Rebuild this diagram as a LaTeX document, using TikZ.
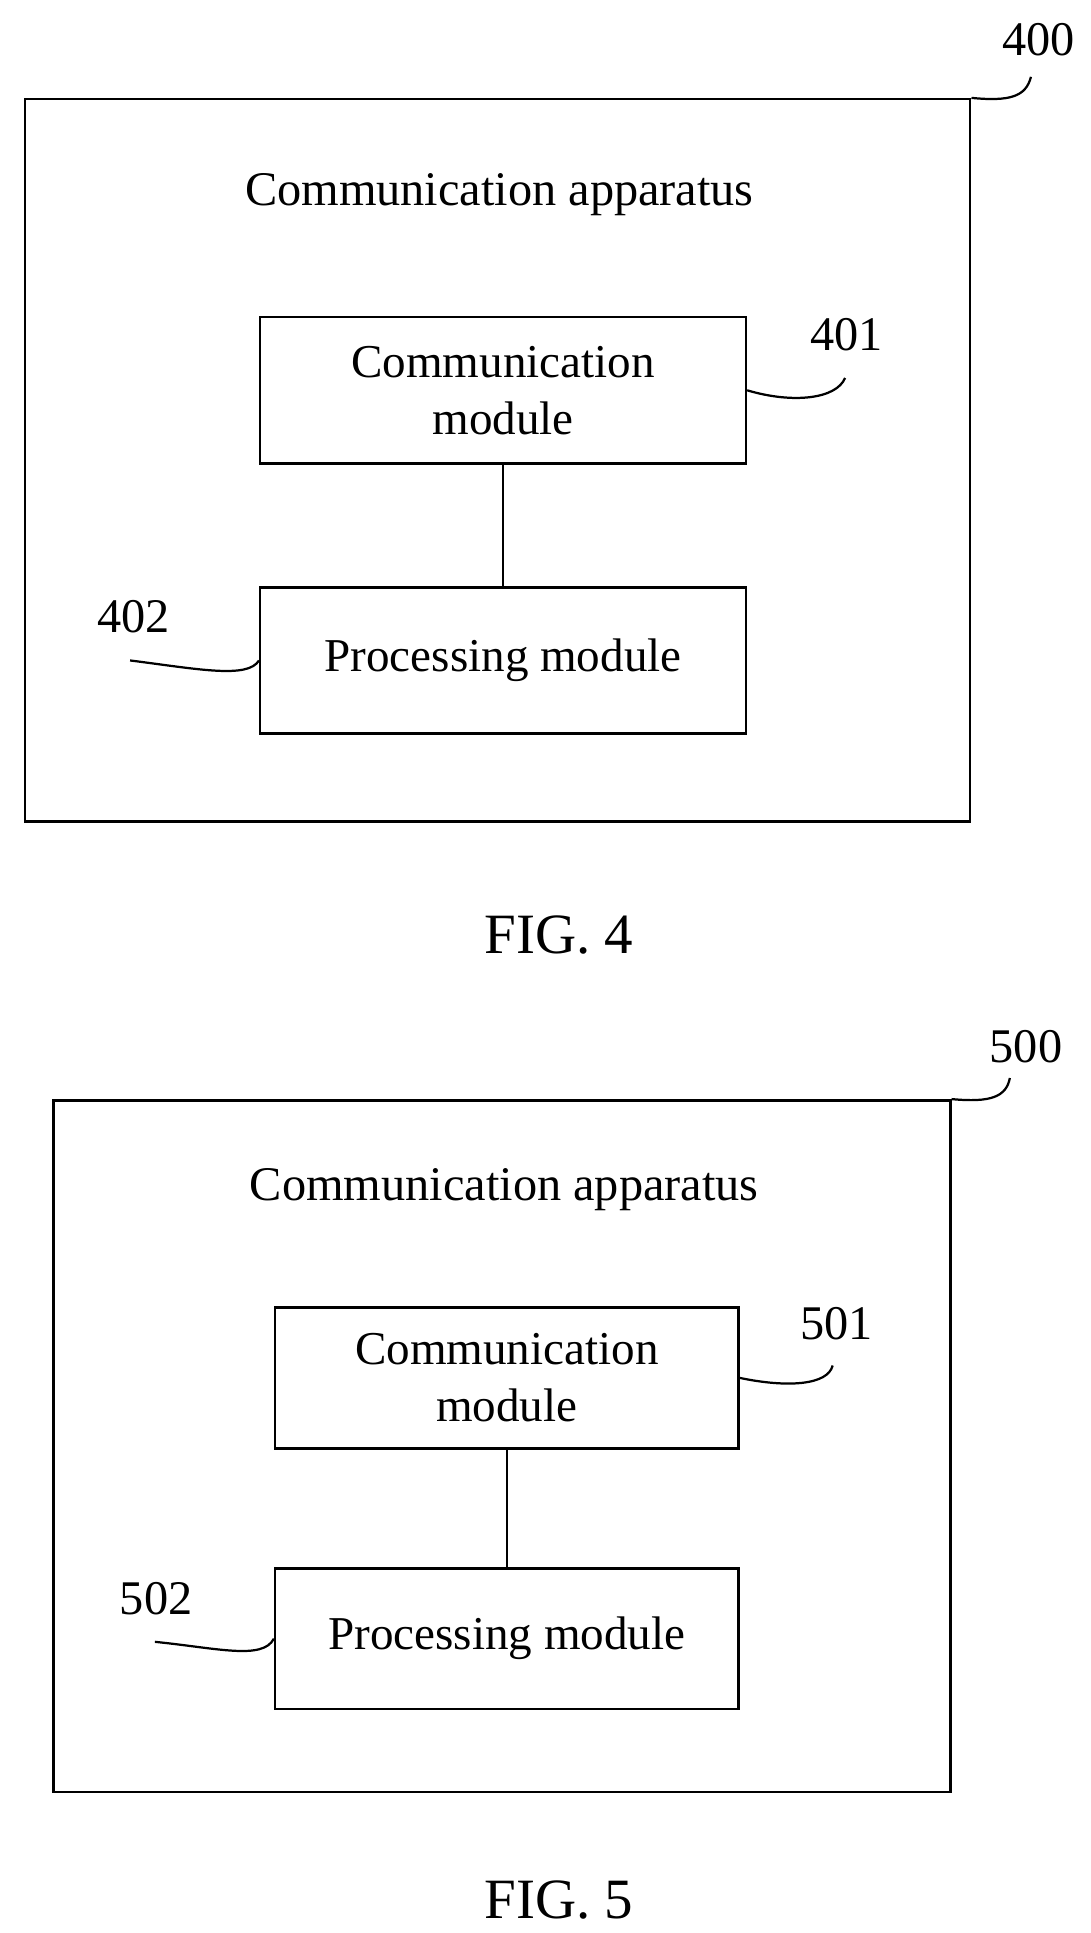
\documentclass[tikz,border=0pt]{standalone}
\usepackage{fontspec}
\setmainfont{Liberation Serif}
\begin{document}
\begin{tikzpicture}[x=1pt,y=-1pt,line width=2pt,
  box/.style={draw,minimum width=392pt,minimum height=118pt,align=center,font=\fontsize{38}{46}\selectfont,inner sep=0pt},
  lbl/.style={font=\fontsize{39}{44}\selectfont,inner sep=0pt},
  lead/.style={line width=1.8pt}]
\useasboundingbox (0,0) rectangle (880,1560);
% FIG 4
\node[draw,minimum width=763pt,minimum height=583pt,inner sep=0pt] (o4) at (401.5,371.5) {};
\node[lbl] (t4) at (403,157) {Communication apparatus};
\node[box] (c4) at (406,315) {Communication\\module};
\node[box] (p4) at (406,533) {Processing module};
\draw[line width=1pt] (c4.south) -- (p4.north);
\node[lbl] (n400) at (838,32) {400};
\node[lbl] (n401) at (683,270) {401};
\node[lbl] (n402) at (108,498) {402};
\draw[lead] (o4.north east) .. controls (815,82) and (828,78) .. (832,62);
\draw[lead] (c4.east) .. controls (640,326) and (675,322) .. (682,305);
\draw[lead] (p4.west) .. controls (200,548) and (160,540) .. (105,533);
\node[lbl,font=\fontsize{46}{52}\selectfont] (f4) at (451,755) {FIG. 4};
% FIG 5
\node[draw,minimum width=724pt,minimum height=558pt,inner sep=0pt] (o5) at (405,1167) {};
\node[lbl] (t5) at (407,960) {Communication apparatus};
\node[box,minimum width=374pt,minimum height=114pt] (c5) at (409,1112) {Communication\\module};
\node[box,minimum width=374pt,minimum height=113pt] (p5) at (409,1322.5) {Processing module};
\draw[line width=1.5pt] (c5.south) -- (p5.north);
\node[lbl] (n500) at (828,845) {500};
\node[lbl] (n501) at (675,1068) {501};
\node[lbl] (n502) at (126,1290) {502};
\draw[lead] (o5.north east) .. controls (800,890) and (812,885) .. (815,870);
\draw[lead] (c5.east) .. controls (635,1120) and (668,1118) .. (672,1102);
\draw[lead] (p5.west) .. controls (212,1340) and (175,1330) .. (125,1325);
\node[lbl,font=\fontsize{46}{52}\selectfont] (f5) at (451,1533) {FIG. 5};
\end{tikzpicture}
\end{document}
